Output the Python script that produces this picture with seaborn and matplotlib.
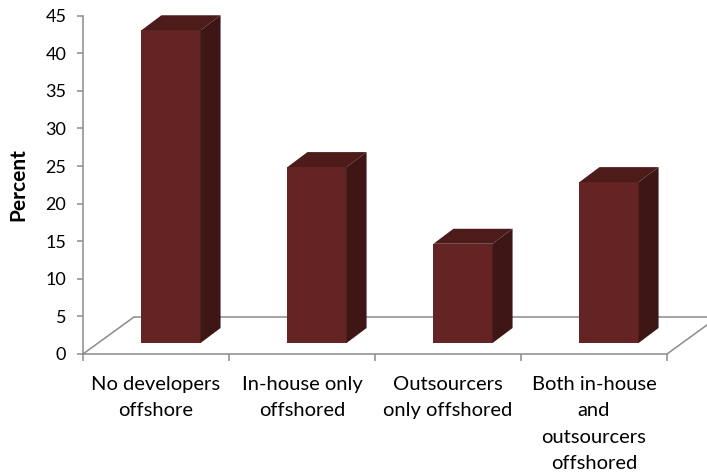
import matplotlib
matplotlib.use("Agg")
import matplotlib.pyplot as plt
import seaborn as sns
import pandas as pd
from matplotlib.patches import Polygon
from matplotlib.lines import Line2D

# ---- data ----
categories = ["No developers\noffshore", "In-house only\noffshored",
              "Outsourcers\nonly offshored", "Both in-house\nand\noutsourcers\noffshored"]
percent = [41.6, 23.4, 13.2, 21.4]
y_ticks = [0, 5, 10, 15, 20, 25, 30, 35, 40, 45]
y_label = "Percent"

# ---- style ----
FRONT = "#632423"
TOP = "#4d1b1a"
SIDE = "#3d1615"
GRAY = "#8c8c8c"

sns.set_theme(style="white")
plt.rcParams['font.family'] = ['Lato', 'DejaVu Sans']

W, H = 707, 475
fig = plt.figure(figsize=(W / 100, H / 100), dpi=100)
L, R, T, B = 83, 667, 15.7, 354
ax = fig.add_axes([L / W, 1 - B / H, (R - L) / W, (B - T) / H])

df = pd.DataFrame({"cat": categories, "pct": percent})
sns.barplot(data=df, x="cat", y="pct", ax=ax, color=FRONT, saturation=1,
            width=0.405, edgecolor="none", linewidth=0, zorder=3)
ax.set_xlim(-0.5, 3.5)
ax.set_ylim(0, 45)

ux = (R - L) / 4.0          # px per category unit
uy = (B - T) / 45.0         # px per percent unit

# depth offsets (pixels)
front_px = (15, 11)
bar_px = (20, 15)
floor_px = (51, 37)
fx, fy = front_px[0] / ux, front_px[1] / uy
bx, by = bar_px[0] / ux, bar_px[1] / uy
flx, fly = floor_px[0] / ux, floor_px[1] / uy

# floor outline
ax.add_line(Line2D([-0.5, -0.5 + flx], [0, fly], color=GRAY, lw=1.1, clip_on=False, zorder=1))
ax.add_line(Line2D([-0.5 + flx, 3.5 + flx], [fly, fly], color=GRAY, lw=1.1, clip_on=False, zorder=1))
ax.add_line(Line2D([3.5, 3.5 + flx], [0, fly], color=GRAY, lw=1.1, clip_on=False, zorder=1))

# 3D bars
for p in list(ax.patches):
    x0, w, h = p.get_x(), p.get_width(), p.get_height()
    p.set_x(x0 + fx)
    p.set_y(fy)
    p.set_clip_on(False)
    xa, xb, yt, yb = x0 + fx, x0 + fx + w, h + fy, fy
    top = Polygon([(xa, yt), (xb, yt), (xb + bx, yt + by), (xa + bx, yt + by)],
                  closed=True, facecolor=TOP, edgecolor="none", zorder=3, clip_on=False)
    side = Polygon([(xb, yb), (xb, yt), (xb + bx, yt + by), (xb + bx, yb + by)],
                   closed=True, facecolor=SIDE, edgecolor="none", zorder=3, clip_on=False)
    ax.add_patch(top)
    ax.add_patch(side)

# axes styling
for s in ["top", "right"]:
    ax.spines[s].set_visible(False)
for s in ["left", "bottom"]:
    ax.spines[s].set_color(GRAY)
    ax.spines[s].set_linewidth(1.1)
    ax.spines[s].set_zorder(2)

ax.set_yticks(y_ticks)
ax.set_yticklabels([str(v) for v in y_ticks])
ax.tick_params(axis="y", left=True, length=4, width=1.1, color=GRAY, pad=8,
               labelsize=13, labelcolor="black", direction="out")
ax.set_xticks(range(len(categories)))
ax.set_xticklabels(categories)
ax.set_xticks([-0.5, 0.5, 1.5, 2.5, 3.5], minor=True)
ax.tick_params(axis="x", which="major", bottom=True, length=0, pad=16,
               labelsize=14.5, labelcolor="black")
ax.tick_params(axis="x", which="minor", bottom=True, length=5, width=1.1,
               color=GRAY, direction="out")
for lab in ax.get_xticklabels():
    lab.set_linespacing(1.66)

ax.set_xlabel("")
ax.set_ylabel(y_label, fontsize=15, fontweight="bold", color="black")
ax.yaxis.set_label_coords(-0.094, 0.5)
ax.patch.set_alpha(0)

fig.savefig("out.png", dpi=100)
